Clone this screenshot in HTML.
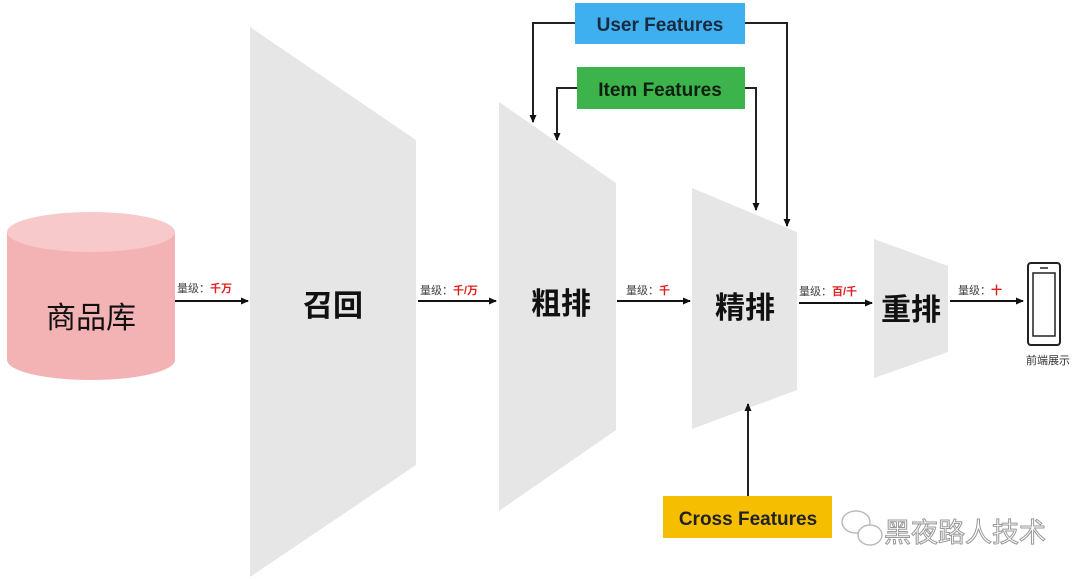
<!DOCTYPE html>
<html><head><meta charset="utf-8"><style>
html,body{margin:0;padding:0;background:#fff;}
svg{display:block;}
text{font-family:"Liberation Sans","Noto Sans CJK SC",sans-serif;}
</style></head><body>
<svg width="1080" height="579" viewBox="0 0 1080 579" xmlns="http://www.w3.org/2000/svg">
<defs>
<marker id="a" markerWidth="8" markerHeight="8" refX="7" refY="4" orient="auto" markerUnits="userSpaceOnUse"><path d="M0,0.5 L8,4 L0,7.5 Z" fill="#111"/></marker>
</defs>
<!-- cylinder -->
<path d="M7,232 L7,360 A84,20 0 0 0 175,360 L175,232 Z" fill="#f3b3b5"/>
<ellipse cx="91" cy="232" rx="84" ry="20" fill="#f7c9ca"/>
<text x="91" y="328" font-size="30" text-anchor="middle" fill="#111">商品库</text>
<!-- trapezoids -->
<polygon points="250,27 416,140 416,465 250,577" fill="#e6e6e6"/>
<text x="333" y="316" font-size="30" font-weight="bold" text-anchor="middle" fill="#111">召回</text>
<polygon points="499,102 616,183 616,430 499,511" fill="#e6e6e6"/>
<text x="561" y="314" font-size="30" font-weight="bold" text-anchor="middle" fill="#111">粗排</text>
<polygon points="692,188 797,232 797,390 692,429" fill="#e6e6e6"/>
<text x="745" y="318" font-size="30" font-weight="bold" text-anchor="middle" fill="#111">精排</text>
<polygon points="874,239 948,266 948,352 874,378" fill="#e6e6e6"/>
<text x="911" y="320" font-size="30" font-weight="bold" text-anchor="middle" fill="#111">重排</text>
<!-- flow arrows -->
<g stroke="#111" stroke-width="2" marker-end="url(#a)">
<line x1="175" y1="301" x2="248" y2="301"/>
<line x1="418" y1="301" x2="496" y2="301"/>
<line x1="617" y1="301" x2="690" y2="301"/>
<line x1="799" y1="303" x2="872" y2="303"/>
<line x1="950" y1="301" x2="1023" y2="301"/>
</g>
<g font-size="11">
<text x="177" y="292" fill="#444">量级：<tspan fill="#e02020" font-weight="bold">千万</tspan></text>
<text x="420" y="294" fill="#444">量级：<tspan fill="#e02020" font-weight="bold">千/万</tspan></text>
<text x="626" y="294" fill="#444">量级：<tspan fill="#e02020" font-weight="bold">千</tspan></text>
<text x="799" y="295" fill="#444">量级：<tspan fill="#e02020" font-weight="bold">百/千</tspan></text>
<text x="958" y="294" fill="#444">量级：<tspan fill="#e02020" font-weight="bold">十</tspan></text>
</g>
<!-- phone -->
<rect x="1028" y="263" width="32" height="82" rx="3" fill="none" stroke="#222" stroke-width="2"/>
<rect x="1033" y="273" width="22" height="63" fill="none" stroke="#222" stroke-width="1.5"/>
<line x1="1040" y1="268" x2="1048" y2="268" stroke="#222" stroke-width="1.5"/>
<text x="1048" y="364" font-size="11" text-anchor="middle" fill="#333">前端展示</text>
<!-- feature boxes -->
<rect x="575" y="3" width="170" height="41" fill="#3fb0ef"/>
<text x="660" y="31" font-size="19" font-weight="bold" text-anchor="middle" fill="#1a2a40">User Features</text>
<rect x="577" y="67" width="168" height="42" fill="#3cb44b"/>
<text x="660" y="96" font-size="19" font-weight="bold" text-anchor="middle" fill="#102010">Item Features</text>
<rect x="663" y="496" width="169" height="42" fill="#f5bf00"/>
<text x="748" y="525" font-size="19" font-weight="bold" text-anchor="middle" fill="#222">Cross Features</text>
<g stroke="#222" stroke-width="2" fill="none" marker-end="url(#a)">
<polyline points="575,23 533,23 533,122"/>
<polyline points="745,23 787,23 787,226"/>
<polyline points="577,88 557,88 557,140"/>
<polyline points="745,88 756,88 756,210"/>
<line x1="748" y1="496" x2="748" y2="404"/>
</g>
<!-- watermark -->
<g fill="none" stroke="#bbb" stroke-width="1.5">
<ellipse cx="856" cy="522" rx="14" ry="11"/>
<ellipse cx="870" cy="535" rx="12" ry="10" fill="#fff"/>
</g>
<text x="884" y="542" font-size="27" fill="#fff" stroke="#999" stroke-width="1">黑夜路人技术</text>
</svg>
</body></html>
